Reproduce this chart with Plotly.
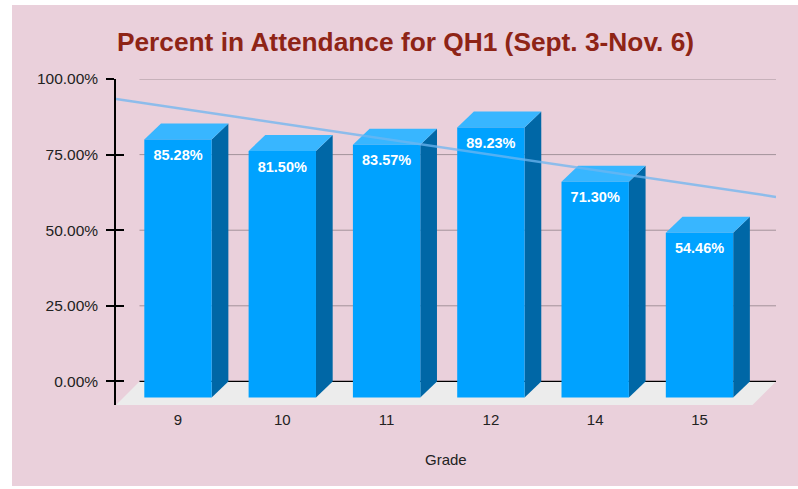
import numpy as np
import plotly.graph_objects as go

# ---- data ----
grades = ["9", "10", "11", "12", "14", "15"]
attendance = [85.28, 81.50, 83.57, 89.23, 71.30, 54.46]
y_ticks = [0, 25, 50, 75, 100]
y_tick_labels = ["0.00%", "25.00%", "50.00%", "75.00%", "100.00%"]
title_text = "Percent in Attendance for QH1 (Sept. 3-Nov. 6)"
x_title = "Grade"

# ---- styling / geometry constants ----
PINK = "#EAD0DB"
FRONT = "#00A2FF"
SIDE = "#0067A6"
TOP = "#38B6FF"
FLOOR = "#ECECEC"
GRID = "#A3929A"
HALF_W = 0.323       # half bar width (category units)
DX, DY = 0.16, 5.3   # bar depth offset (x units, y %)
FDX, FDY = 0.225, 7.8  # floor depth
X_RANGE = [-0.5944, 5.7334]
Y_RANGE = [-FDY, 100]

idx = np.arange(len(grades))
fig = go.Figure()

# floor
back_l, back_r = X_RANGE[0] + FDX, X_RANGE[1]
fig.add_trace(go.Scatter(
    x=[back_l, back_r, back_r - FDX, back_l - FDX, back_l],
    y=[0, 0, -FDY, -FDY, 0],
    fill="toself", fillcolor=FLOOR, line=dict(width=0), mode="lines",
    hoverinfo="skip", showlegend=False))

# back-plane gridlines
for t in y_ticks:
    fig.add_trace(go.Scatter(
        x=[back_l, back_r], y=[t, t], mode="lines",
        line=dict(color="black" if t == 0 else GRID, width=1.2 if t == 0 else 1),
        hoverinfo="skip", showlegend=False))

# 3D bars
for i, v in zip(idx, attendance):
    l, r = i - HALF_W, i + HALF_W
    # side
    fig.add_trace(go.Scatter(
        x=[r, r + DX, r + DX, r, r], y=[-DY, 0, v, v - DY, -DY],
        fill="toself", fillcolor=SIDE, line=dict(width=0), mode="lines",
        hoverinfo="skip", showlegend=False))
    # top
    fig.add_trace(go.Scatter(
        x=[l, l + DX, r + DX, r, l], y=[v - DY, v, v, v - DY, v - DY],
        fill="toself", fillcolor=TOP, line=dict(width=0), mode="lines",
        hoverinfo="skip", showlegend=False))
    # front
    fig.add_trace(go.Scatter(
        x=[l, r, r, l, l], y=[-DY, -DY, v - DY, v - DY, -DY],
        fill="toself", fillcolor=FRONT, line=dict(width=0), mode="lines",
        hoverinfo="skip", showlegend=False))

# value labels
fig.add_trace(go.Scatter(
    x=idx, y=[v - DY - 5.6 for v in attendance], mode="text",
    text=[f"{v:.2f}%" for v in attendance], textposition="middle center",
    textfont=dict(family="Liberation Sans", size=14.5, color="white", weight="bold"),
    hoverinfo="skip", showlegend=False))

# linear trendline
slope, intercept = np.polyfit(idx, attendance, 1)
tx = np.array(X_RANGE)
fig.add_trace(go.Scatter(
    x=tx, y=intercept + slope * tx, mode="lines",
    line=dict(color="rgba(110,182,240,0.75)", width=2.5),
    hoverinfo="skip", showlegend=False))

# second y axis for inward ticks
fig.add_trace(go.Scatter(x=[None], y=[None], yaxis="y2", showlegend=False))

fig.update_layout(
    width=798, height=489,
    margin=dict(l=116, r=22, t=79, b=84),
    paper_bgcolor="white", plot_bgcolor="rgba(0,0,0,0)",
    font=dict(family="Liberation Sans", color="#222222", size=15),
    title=dict(text=title_text, x=405.5 / 798, xref="container", xanchor="center",
               y=1 - 42 / 489, yref="container", yanchor="middle",
               font=dict(family="Liberation Sans", size=26.3,
                         color="#8E2416", weight="bold")),
    xaxis=dict(range=X_RANGE, showgrid=False, zeroline=False, showline=False,
               tickvals=list(idx), ticktext=grades, ticks="", ticklabelstandoff=4,
               tickfont=dict(size=15, color="#222222")),
    yaxis=dict(range=Y_RANGE, showgrid=False, zeroline=False, showline=True,
               linecolor="black", linewidth=1.5, ticks="outside", ticklen=8,
               tickwidth=1.5, tickcolor="black", tickvals=y_ticks,
               ticktext=y_tick_labels, ticklabelstandoff=5,
               tickfont=dict(size=15.5, color="#222222")),
    yaxis2=dict(range=Y_RANGE, overlaying="y", side="left", showgrid=False,
                zeroline=False, showline=False, ticks="inside", ticklen=8,
                tickwidth=1.5, tickcolor="black", tickvals=y_ticks,
                showticklabels=False),
    shapes=[dict(type="rect", xref="paper", yref="paper", layer="below",
                 x0=(12 - 116) / 660, x1=1.1, y0=(405 - 486) / 326, y1=(405 - 5) / 326,
                 fillcolor=PINK, line=dict(width=0))],
    annotations=[dict(text=x_title, xref="paper", yref="paper", x=0.5,
                      y=(405 - 459) / 326, xanchor="center", yanchor="middle",
                      showarrow=False, font=dict(size=15, color="#222222"))],
)

fig.write_html("out.html", config={"displayModeBar": False},
               post_script="document.body.style.margin='0';")
